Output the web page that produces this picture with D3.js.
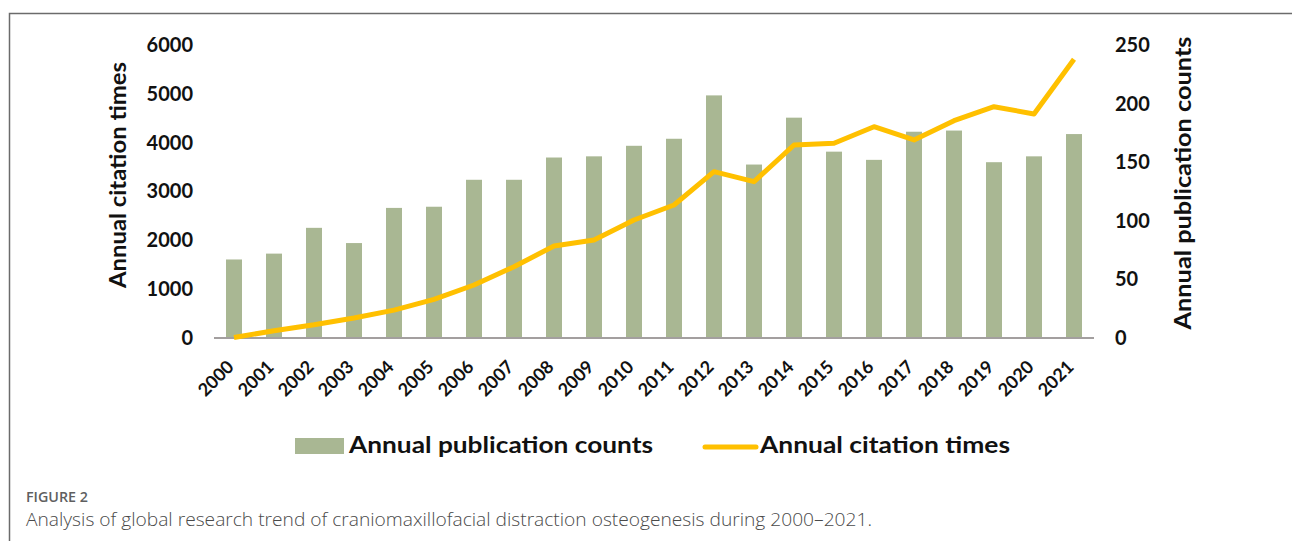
<!DOCTYPE html>
<html>
<head>
<meta charset="utf-8">
<script src="https://cdn.jsdelivr.net/npm/d3@7"></script>
<style>
  body { margin: 0; background: #fff; }
  svg { display: block; }
</style>
</head>
<body>
<div id="chart"></div>
<script>
// values
const years = ["2000", "2001", "2002", "2003", "2004", "2005", "2006", "2007", "2008", "2009", "2010",
  "2011", "2012", "2013", "2014", "2015", "2016", "2017", "2018", "2019", "2020", "2021"];
const publicationCounts = [67, 72, 94, 81, 111, 112, 135, 135, 154, 155, 164,
  170, 207, 148, 188, 159, 152, 176, 177, 150, 155, 174];
const citationTimes = [10, 150, 270, 410, 570, 790, 1085, 1460, 1884, 2007, 2417,
  2724, 3406, 3201, 3952, 3987, 4327, 4055, 4450, 4737, 4587, 5707];
const leftTicks = [0, 1000, 2000, 3000, 4000, 5000, 6000];
const rightTicks = [0, 50, 100, 150, 200, 250];

const width = 1293, height = 541;
const barColor = "#a9b793";
const lineColor = "#ffc000";
const font = "Lato, 'Open Sans', sans-serif";

const svg = d3.select("#chart").append("svg")
  .attr("width", width)
  .attr("height", height);

// figure frame (top and left edges only)
svg.append("path")
  .attr("d", "M9.5,541 V13.5 H1292")
  .attr("fill", "none")
  .attr("stroke", "#6b6b6b")
  .attr("stroke-width", 1.5);

const x = d3.scaleBand()
  .domain(years)
  .range([214, 1094])
  .paddingInner(0.6)
  .paddingOuter(0.3);
const yLeft = d3.scaleLinear().domain([0, 6000]).range([338, 45]);
const yRight = d3.scaleLinear().domain([0, 250]).range([338, 45]);

// bars: publication counts on the right axis
svg.append("g")
  .selectAll("rect")
  .data(years)
  .enter().append("rect")
  .attr("x", d => x(d))
  .attr("y", (d, i) => yRight(publicationCounts[i]))
  .attr("width", x.bandwidth())
  .attr("height", (d, i) => yRight(0) - yRight(publicationCounts[i]))
  .attr("fill", barColor);

// baseline
svg.append("line")
  .attr("x1", 214).attr("x2", 1094)
  .attr("y1", yLeft(0)).attr("y2", yLeft(0))
  .attr("stroke", "#a39f9f")
  .attr("stroke-width", 2);

// citation line on the left axis
const line = d3.line()
  .x((d, i) => x(years[i]) + x.bandwidth() / 2)
  .y(d => yLeft(d));
svg.append("path")
  .datum(citationTimes)
  .attr("d", line)
  .attr("fill", "none")
  .attr("stroke", lineColor)
  .attr("stroke-width", 5)
  .attr("stroke-linejoin", "round");

// left axis
const leftAxis = svg.append("g")
  .attr("transform", "translate(193,0)")
  .call(d3.axisLeft(yLeft).tickValues(leftTicks).tickFormat(d3.format("d")).tickSize(0).tickPadding(0));
leftAxis.select(".domain").remove();

// right axis
const rightAxis = svg.append("g")
  .attr("transform", "translate(1115,0)")
  .call(d3.axisRight(yRight).tickValues(rightTicks).tickFormat(d3.format("d")).tickSize(0).tickPadding(0));
rightAxis.select(".domain").remove();

[leftAxis, rightAxis].forEach(g => {
  g.selectAll("text")
    .style("font-family", font)
    .style("font-weight", "bold")
    .style("font-size", "20px")
    .attr("fill", "#111");
});

// x axis with rotated year labels
const xAxis = svg.append("g")
  .attr("transform", `translate(0,${yLeft(0)})`)
  .call(d3.axisBottom(x).tickSize(0));
xAxis.select(".domain").remove();
xAxis.selectAll("text")
  .attr("x", 0).attr("y", 0).attr("dy", null)
  .attr("transform", "translate(1,30) rotate(-45)")
  .attr("text-anchor", "end")
  .style("font-family", font)
  .style("font-weight", "bold")
  .style("font-size", "18px")
  .attr("fill", "#111");

// axis titles
svg.append("text")
  .attr("transform", "translate(126,175) rotate(-90)")
  .attr("text-anchor", "middle")
  .attr("textLength", 226)
  .attr("lengthAdjust", "spacingAndGlyphs")
  .style("font-family", font)
  .style("font-weight", "bold")
  .style("font-size", "22px")
  .attr("fill", "#111")
  .text("Annual citation times");

svg.append("text")
  .attr("transform", "translate(1191,183) rotate(-90)")
  .attr("text-anchor", "middle")
  .attr("textLength", 293)
  .attr("lengthAdjust", "spacingAndGlyphs")
  .style("font-family", font)
  .style("font-weight", "bold")
  .style("font-size", "22px")
  .attr("fill", "#111")
  .text("Annual publication counts");

// legend
const legend = svg.append("g");
legend.append("rect")
  .attr("x", 295).attr("y", 438)
  .attr("width", 49).attr("height", 16)
  .attr("fill", barColor);
legend.append("text")
  .attr("x", 349).attr("y", 453)
  .attr("textLength", 304)
  .attr("lengthAdjust", "spacingAndGlyphs")
  .style("font-family", font)
  .style("font-weight", "bold")
  .style("font-size", "22px")
  .attr("fill", "#111")
  .text("Annual publication counts");
legend.append("line")
  .attr("x1", 705).attr("x2", 756)
  .attr("y1", 447).attr("y2", 447)
  .attr("stroke", lineColor)
  .attr("stroke-width", 5)
  .attr("stroke-linecap", "round");
legend.append("text")
  .attr("x", 760).attr("y", 453)
  .attr("textLength", 250)
  .attr("lengthAdjust", "spacingAndGlyphs")
  .style("font-family", font)
  .style("font-weight", "bold")
  .style("font-size", "22px")
  .attr("fill", "#111")
  .text("Annual citation times");

// caption
svg.append("text")
  .attr("x", 26).attr("y", 502)
  .attr("textLength", 62)
  .attr("lengthAdjust", "spacingAndGlyphs")
  .style("font-family", "'Open Sans', sans-serif")
  .style("font-weight", "600")
  .style("font-size", "15px")
  .attr("fill", "#5f5f5f")
  .text("FIGURE 2");
svg.append("text")
  .attr("x", 26).attr("y", 526)
  .attr("textLength", 846)
  .attr("lengthAdjust", "spacingAndGlyphs")
  .style("font-family", "'Open Sans', sans-serif")
  .style("font-weight", "300")
  .style("font-size", "18px")
  .attr("fill", "#4a4a4a")
  .text("Analysis of global research trend of craniomaxillofacial distraction osteogenesis during 2000\u20132021.");
</script>
</body>
</html>
